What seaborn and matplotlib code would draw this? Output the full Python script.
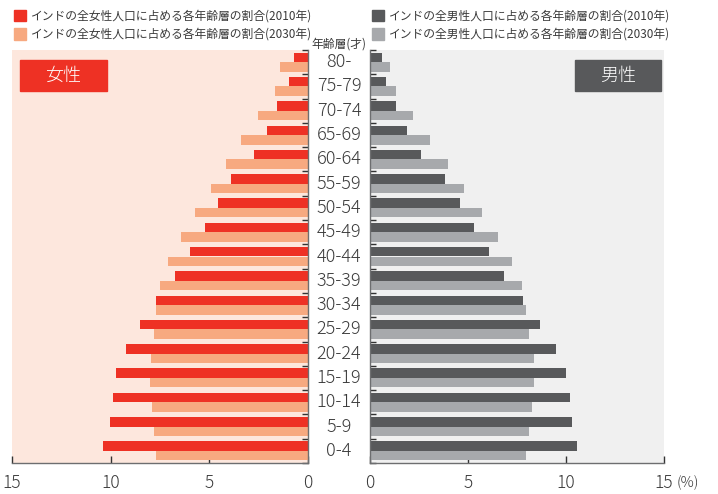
import seaborn as sns
import matplotlib.pyplot as plt
import matplotlib.patches as mpatches
import matplotlib.transforms as mtransforms
import numpy as np
import pandas as pd

# 年齢層（上から下へ）
ages = ['80-', '75-79', '70-74', '65-69', '60-64', '55-59', '50-54', '45-49', '40-44',
        '35-39', '30-34', '25-29', '20-24', '15-19', '10-14', '5-9', '0-4']

# 女性 (%)
female_2010 = [0.71, 0.96, 1.59, 2.1, 2.76, 3.88, 4.58, 5.24, 6.0,
               6.72, 7.68, 8.49, 9.2, 9.71, 9.86, 10.01, 10.37]
female_2030 = [1.42, 1.69, 2.55, 3.37, 4.18, 4.94, 5.75, 6.46, 7.07,
               7.48, 7.68, 7.78, 7.98, 8.03, 7.93, 7.78, 7.68]

# 男性 (%)
male_2010 = [0.6, 0.8, 1.31, 1.87, 2.59, 3.81, 4.58, 5.29, 6.05,
             6.82, 7.79, 8.66, 9.47, 9.98, 10.19, 10.29, 10.55]
male_2030 = [1.0, 1.35, 2.18, 3.05, 3.96, 4.78, 5.7, 6.51, 7.23,
             7.74, 7.94, 8.1, 8.35, 8.35, 8.25, 8.1, 7.94]

years = ['2010', '2030']
x_ticks = [0, 5, 10, 15]

female_labels = ['インドの全女性人口に占める各年齢層の割合(2010年)',
                 'インドの全女性人口に占める各年齢層の割合(2030年)']
male_labels = ['インドの全男性人口に占める各年齢層の割合(2010年)',
               'インドの全男性人口に占める各年齢層の割合(2030年)']

red, salmon = '#EE3124', '#F7A980'
dgray, lgray = '#58595B', '#A7A9AC'
spine_col = '#6d6e70'
text_col = '#3a3a3a'

sns.set_theme(style='white')
plt.rcParams['font.family'] = ['Noto Sans CJK JP', 'DejaVu Sans']

df_f = pd.DataFrame({'age': ages * 2, 'value': female_2010 + female_2030,
                     'year': ['2010'] * len(ages) + ['2030'] * len(ages)})
df_m = pd.DataFrame({'age': ages * 2, 'value': male_2010 + male_2030,
                     'year': ['2010'] * len(ages) + ['2030'] * len(ages)})

fig = plt.figure(figsize=(7.18, 4.94), dpi=100)
W, H = 718, 494
top, bottom = 50, 463
ax_f = fig.add_axes([12 / W, 1 - bottom / H, 296 / W, (bottom - top) / H])
ax_m = fig.add_axes([370 / W, 1 - bottom / H, 294 / W, (bottom - top) / H])

sns.barplot(data=df_f, x='value', y='age', hue='year', hue_order=years, order=ages,
            palette=[red, salmon], orient='h', width=0.78, saturation=1,
            linewidth=0, legend=False, ax=ax_f)
sns.barplot(data=df_m, x='value', y='age', hue='year', hue_order=years, order=ages,
            palette=[dgray, lgray], orient='h', width=0.78, saturation=1,
            linewidth=0, legend=False, ax=ax_m)

for ax, bg, side in [(ax_f, '#FDE7DD', 'right'), (ax_m, '#F0F0F0', 'left')]:
    ax.set_facecolor(bg)
    ax.set_xlim(0, 15)
    ax.set_ylim(len(ages) - 0.58, -0.5)
    ax.set_xlabel('')
    ax.set_ylabel('')
    ax.set_xticks(x_ticks)
    ax.set_xticklabels([str(t) for t in x_ticks], fontweight='light')
    ax.set_yticks([])
    ax.set_yticks(np.arange(-0.5, len(ages), 1), minor=True)
    for s in ['top', 'left', 'right', 'bottom']:
        ax.spines[s].set_visible(False)
    for s in ['bottom', side]:
        ax.spines[s].set_visible(True)
        ax.spines[s].set_color(spine_col)
        ax.spines[s].set_linewidth(1.0)
    ax.tick_params(axis='x', direction='in', length=5, width=1, color='#333333',
                   labelsize=12.5, labelcolor=text_col, pad=8, bottom=True)
    ax.tick_params(axis='y', which='minor', direction='in', length=4, width=1,
                   color='#333333', left=(side == 'left'), right=(side == 'right'))
    ax.tick_params(axis='y', which='major', left=False, right=False)

ax_f.invert_xaxis()

# (%) after the right-hand 15
ax_m.annotate('(%)', xy=(15, 0), xycoords=mtransforms.blended_transform_factory(ax_m.transData, ax_m.transAxes),
              xytext=(9, -9), textcoords='offset points', ha='left', va='top',
              fontsize=10.5, fontweight='light', color=text_col)

# 年齢層ラベル（中央）
trans = mtransforms.blended_transform_factory(fig.transFigure, ax_m.transData)
for i, a in enumerate(ages):
    fig.text(339 / W, i, a, transform=trans, ha='center', va='center',
             fontsize=13, fontweight='light', color=text_col)
fig.text(339 / W, 1 - 44 / H, '年齢層(才)', ha='center', va='center', fontsize=8.5, color=text_col)

# 女性 / 男性 ボックス
ax_f.add_patch(mpatches.Rectangle((8 / 296, 1 - 41 / 413), 87 / 296, 31 / 413,
                                  transform=ax_f.transAxes, color=red, zorder=5))
ax_f.text((8 + 43.5) / 296, 1 - 25.5 / 413, '女性', transform=ax_f.transAxes, ha='center',
          va='center', fontsize=13, fontweight='light', color='white', zorder=6)
ax_m.add_patch(mpatches.Rectangle((205 / 294, 1 - 41 / 413), 86 / 294, 31 / 413,
                                  transform=ax_m.transAxes, color=dgray, zorder=5))
ax_m.text((205 + 43) / 294, 1 - 25.5 / 413, '男性', transform=ax_m.transAxes, ha='center',
          va='center', fontsize=13, fontweight='light', color='white', zorder=6)

# 凡例
for x0, cols, labs in [(12, [red, salmon], female_labels), (370, [dgray, lgray], male_labels)]:
    handles = [mpatches.Patch(color=c) for c in cols]
    fig.legend(handles, labs, loc='upper left', bbox_to_anchor=(x0 / W - 0.012, 1 + 1 / H),
               frameon=False, fontsize=8.5, handlelength=1.0, handleheight=1.1,
               handletextpad=0.4, labelspacing=0.45, labelcolor=text_col)

fig.savefig('out.png', dpi=100)
